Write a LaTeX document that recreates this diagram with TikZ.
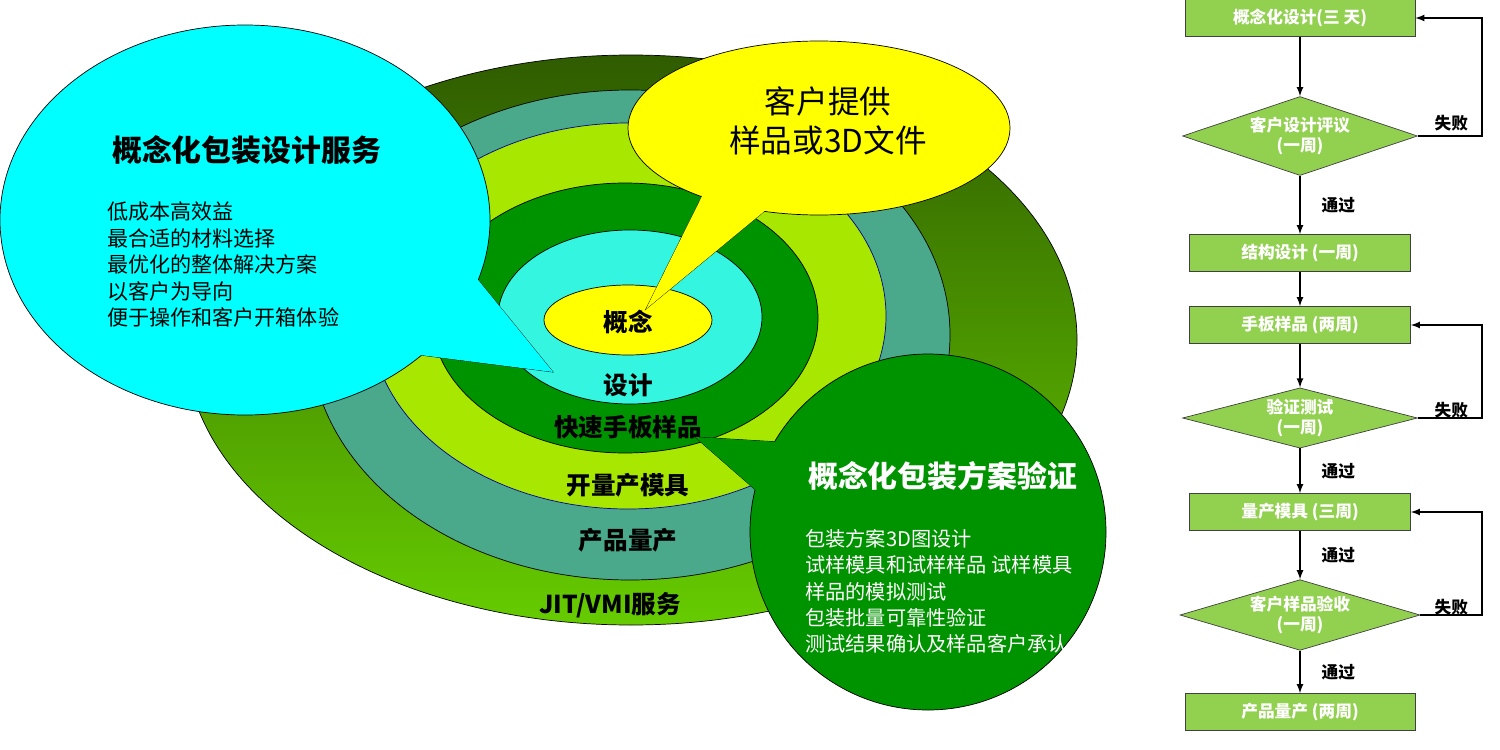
\documentclass[tikz,border=0pt]{standalone}
\usepackage{fontspec}
\setmainfont{Noto Sans CJK SC}
\usetikzlibrary{shapes.geometric,positioning}
\definecolor{ringdark}{HTML}{2F5C00}
\definecolor{ringlime}{HTML}{66CC00}
\definecolor{ringteal}{HTML}{4AA98A}
\definecolor{ringlight}{HTML}{A8E800}
\definecolor{ringgreen}{HTML}{009300}
\definecolor{ringcyan}{HTML}{33F5E0}
\definecolor{bubblecyan}{HTML}{00FFFF}
\definecolor{bubbleyellow}{HTML}{FFFF00}
\definecolor{flowgreen}{HTML}{92D050}
\tikzset{
  ringlabel/.style={font=\fontsize{14}{16}\selectfont\bfseries},
  flowbox/.style={draw=black!75, fill=flowgreen, minimum width=4.42cm, minimum height=0.74cm,
    text=white, font=\fontsize{9.5}{11}\selectfont\bfseries, inner sep=0pt},
  flowdia/.style={diamond, draw=black!75, fill=flowgreen, aspect=2.4, minimum width=4.7cm,
    text=white, font=\fontsize{9.5}{11}\selectfont\bfseries, align=center, inner sep=0pt},
  flowtag/.style={font=\fontsize{9.5}{11}\selectfont\bfseries},
  flowarrow/.style={->, >=latex, thick},
  bullet/.style={font=\fontsize{12}{15}\selectfont, align=left, anchor=north west}
}
\begin{document}
\begin{tikzpicture}[x=0.02cm, y=-0.02cm]
    \useasboundingbox (0,0) rectangle (1500,750);
    % rings
    \shade[top color=ringdark, bottom color=ringlime, draw=black] (631,340) ellipse (446 and 285);
    \draw[fill=ringteal] (630,335) ellipse (320 and 245);
    \draw[fill=ringlight, draw=blue!60!black] (628,316) ellipse (258 and 193);
    \draw[fill=ringgreen] (625,318) ellipse (193 and 135);
    \draw[fill=ringcyan] (630,317) ellipse (132 and 87);
    \draw[fill=bubbleyellow] (628,320) ellipse (84 and 35);
    \node[ringlabel] (concept) at (628,322) {概念};
    \node[ringlabel] (design) at (628,385) {设计};
    \node[ringlabel] (proto) at (628,427) {快速手板样品};
    \node[ringlabel] (mould) at (628,485) {开量产模具};
    \node[ringlabel] (mass) at (628,540) {产品量产};
    \node[ringlabel] (jit) at (610,605) {JIT/VMI服务};
    % cyan bubble
    \draw[fill=bubblecyan] (470,270) -- (553,372) -- (420,355) -- cycle;
    \draw[fill=bubblecyan] (245,220) ellipse (245 and 195);
    \fill[bubblecyan] (470,270) -- (553,372) -- (420,355) -- cycle;
    \node[font=\fontsize{17}{20}\selectfont\bfseries, anchor=west] (svc) at (106,150) {概念化包装设计服务};
    \node[bullet] (svclist) at (101,196) {低成本高效益\\最合适的材料选择\\最优化的整体解决方案\\以客户为导向\\便于操作和客户开箱体验};
    % yellow bubble
    \draw[fill=bubbleyellow] (715,170) -- (646,309) -- (790,190) -- cycle;
    \draw[fill=bubbleyellow] (819,128) ellipse (191 and 87);
    \fill[bubbleyellow] (715,170) -- (646,309) -- (790,190) -- cycle;
    \node[font=\fontsize{18}{22}\selectfont, align=center] (input) at (828,121) {客户提供\\样品或3D文件};
    % green bubble
    \draw[fill=ringgreen] (830,445) -- (695,437) -- (790,520) -- cycle;
    \draw[fill=ringgreen] (928,532) ellipse (178 and 178);
    \fill[ringgreen] (830,445) -- (695,437) -- (790,520) -- cycle;
    \node[font=\fontsize{17}{20}\selectfont\bfseries, text=white, anchor=west] (verify) at (802,476) {概念化包装方案验证};
    \node[bullet, text=white, font=\fontsize{11.5}{15}\selectfont] (verifylist) at (799,523) {包装方案3D图设计\\试样模具和试样样品 试样模具\\样品的模拟测试\\包装批量可靠性验证\\测试结果确认及样品客户承认};
    % flow chart
    \node[flowbox, minimum width=4.6cm] (s1) at (1300,18) {概念化设计(三 天)};
    \node[flowdia] (d1) at (1300,136) {客户设计评议\\(一周)};
    \node[flowbox] (s2) at (1300,253) {结构设计 (一周)};
    \node[flowbox] (s3) at (1300,325) {手板样品 (两周)};
    \node[flowdia, minimum width=4.7cm, aspect=2.9] (d2) at (1300,418) {验证测试\\(一周)};
    \node[flowbox] (s4) at (1300,512) {量产模具 (三周)};
    \node[flowdia, minimum width=4.8cm, aspect=3] (d3) at (1300,615) {客户样品验收\\(一周)};
    \node[flowbox, minimum width=4.6cm] (s5) at (1300,712) {产品量产 (两周)};
    \draw[flowarrow] (s1) -- (d1);
    \draw[flowarrow] (d1) -- (s2) node[flowtag, midway, right=0.3cm] {通过};
    \draw[flowarrow] (s2) -- (s3);
    \draw[flowarrow] (s3) -- (d2);
    \draw[flowarrow] (d2) -- (s4) node[flowtag, midway, right=0.3cm] {通过};
    \draw[flowarrow] (s4) -- (d3) node[flowtag, midway, right=0.3cm] {通过};
    \draw[flowarrow] (d3) -- (s5) node[flowtag, midway, right=0.3cm] {通过};
    \draw[flowarrow] (d1.east) -| (1482,18) node[flowtag, pos=0.5, left=0.15cm, yshift=0.25cm] {失败} -- (s1.east);
    \draw[flowarrow] (d2.east) -| (1482,325) node[flowtag, pos=0.5, left=0.15cm, yshift=0.15cm] {失败} -- (s3.east);
    \draw[flowarrow] (d3.east) -| (1482,512) node[flowtag, pos=0.5, left=0.15cm, yshift=0.15cm] {失败} -- (s4.east);
\end{tikzpicture}
\end{document}
